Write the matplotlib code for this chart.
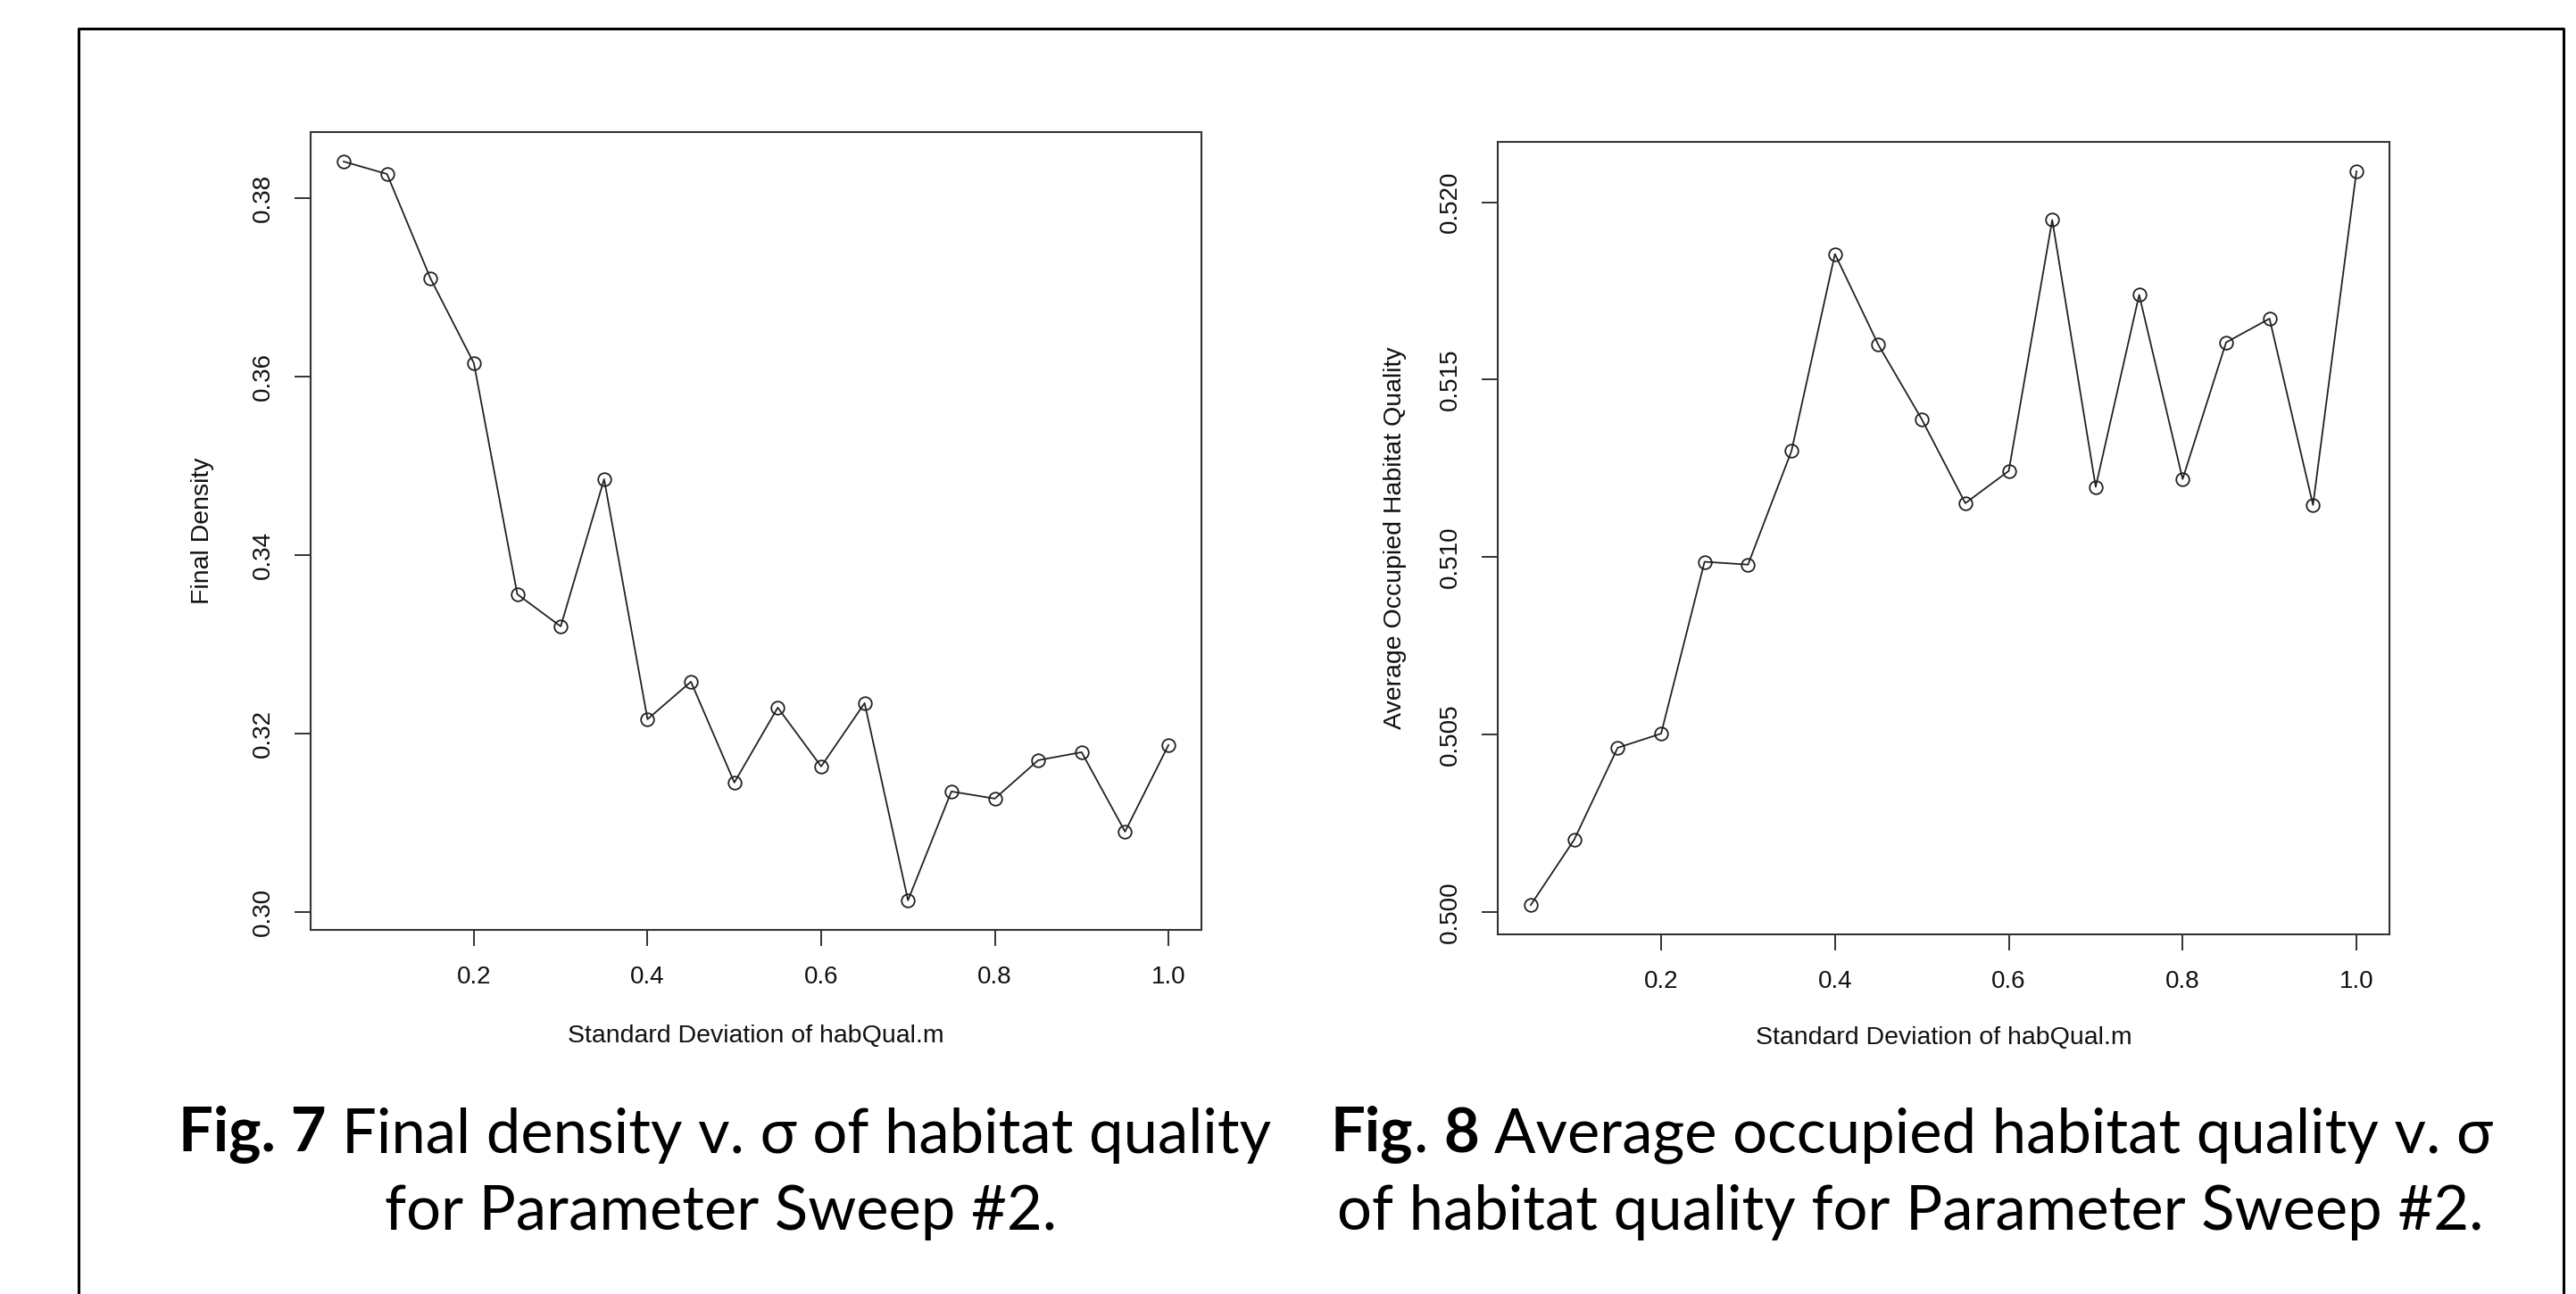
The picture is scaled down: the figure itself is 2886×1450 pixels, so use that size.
import matplotlib.pyplot as plt
from matplotlib.lines import Line2D

# Parameter sweep #2 values
sd = [0.05, 0.10, 0.15, 0.20, 0.25, 0.30, 0.35, 0.40, 0.45, 0.50,
      0.55, 0.60, 0.65, 0.70, 0.75, 0.80, 0.85, 0.90, 0.95, 1.00]
final_density = [0.3841, 0.3827, 0.3710, 0.3615, 0.3356, 0.3320, 0.3485, 0.3216, 0.3258, 0.3145,
                 0.3229, 0.3163, 0.3234, 0.3013, 0.3135, 0.3127, 0.3170, 0.3179, 0.3090, 0.3187]
avg_hab_quality = [0.50020, 0.50204, 0.50463, 0.50503, 0.50987, 0.50979, 0.51299, 0.51854, 0.51598, 0.51388,
                   0.51152, 0.51243, 0.51950, 0.51198, 0.51739, 0.51220, 0.51605, 0.51672, 0.51147, 0.52087]

x_ticks = [0.2, 0.4, 0.6, 0.8, 1.0]
x_labels = ['0.2', '0.4', '0.6', '0.8', '1.0']
dens_ticks = [0.30, 0.32, 0.34, 0.36, 0.38]
dens_labels = ['0.30', '0.32', '0.34', '0.36', '0.38']
qual_ticks = [0.500, 0.505, 0.510, 0.515, 0.520]
qual_labels = ['0.500', '0.505', '0.510', '0.515', '0.520']

x_title = 'Standard Deviation of habQual.m'
cap7 = [[('Fig. 7', 'bold'), ('Final density v. σ of habitat quality', 'normal')],
        [('for Parameter Sweep #2.', 'normal')]]
cap8 = [[('Fig', 'bold'), ('.', 'normal'), ('8', 'bold'), ('Average occupied habitat quality v. σ', 'normal')],
        [('of habitat quality for Parameter Sweep #2.', 'normal')]]

W, H = 2886, 1450
plt.rcParams['font.family'] = ['Liberation Sans', 'DejaVu Sans']
axis_col = '#333333'
cap_font = ['Lato', 'DejaVu Sans']
cap_size = 49.5


def r_lim(vals):
    # R pads the data range by 4% on each side
    lo, hi = min(vals), max(vals)
    pad = 0.04 * (hi - lo)
    return lo - pad, hi + pad


def r_plot(ax, y, yticks, ylabels, ylab, ylab_x, xlab_y):
    ax.plot(sd, y, color='#222222', lw=1.3, marker='o', ms=10.5,
            mfc='none', mec='#222222', mew=1.3)
    ax.set_xlim(r_lim(sd))
    ax.set_ylim(r_lim(y))
    ax.set_xticks(x_ticks)
    ax.set_xticklabels(x_labels)
    ax.set_yticks(yticks)
    ax.set_yticklabels(ylabels, rotation=90, va='center')
    ax.tick_params(direction='out', length=13, width=1.4, pad=16,
                   labelsize=20, color=axis_col, labelcolor='#111111')
    for sp in ax.spines.values():
        sp.set_color(axis_col)
        sp.set_linewidth(1.5)
    ax.set_ylabel(ylab, fontsize=20.5, color='#111111')
    ax.set_xlabel(x_title, fontsize=20.5, color='#111111', va='top')
    ax.yaxis.set_label_coords(ylab_x, 0.5)
    ax.xaxis.set_label_coords(0.5, xlab_y)


def caption(fig, cx, y, parts):
    # lay out mixed bold / regular pieces on one centred line
    r = fig.canvas.get_renderer()
    probe1 = fig.text(0, 0, 'xx', fontsize=cap_size, family=cap_font)
    probe2 = fig.text(0, 0, 'x x', fontsize=cap_size, family=cap_font)
    gap = probe2.get_window_extent(r).width - probe1.get_window_extent(r).width
    probe1.remove()
    probe2.remove()
    texts = []
    for s, w in parts:
        texts.append(fig.text(0, y, s, fontsize=cap_size, fontweight=w,
                              family=cap_font, ha='left', va='center'))
    widths = [t.get_window_extent(r).width for t in texts]
    # no space before a lone period
    gaps = [0 if parts[i + 1][0] == '.' else gap for i in range(len(parts) - 1)]
    total = sum(widths) + sum(gaps)
    x = cx * W - total / 2
    for i, t in enumerate(texts):
        t.set_x(x / W)
        x += widths[i] + (gaps[i] if i < len(gaps) else 0)


fig = plt.figure(figsize=(W / 100, H / 100), dpi=100)

ax1 = fig.add_axes([0.1206, 0.2814, 0.3458, 0.6166])
r_plot(ax1, final_density, dens_ticks, dens_labels, 'Final Density', -0.108, -0.119)

ax2 = fig.add_axes([0.5814, 0.2779, 0.3462, 0.6124])
r_plot(ax2, avg_hab_quality, qual_ticks, qual_labels, 'Average Occupied Habitat Quality', -0.102, -0.116)

# page frame around both figures (bottom edge runs off the crop)
fx = [88 / W, 88 / W, 2872 / W, 2872 / W]
fy = [-0.02, 1 - 32 / H, 1 - 32 / H, -0.02]
fig.add_artist(Line2D(fx, fy, transform=fig.transFigure, color='black', lw=2.2))

caption(fig, 812 / W, 1 - 1272 / H, cap7[0])
caption(fig, 808 / W, 1 - 1358 / H, cap7[1])
caption(fig, 2142 / W, 1 - 1272 / H, cap8[0])
caption(fig, 2140 / W, 1 - 1358 / H, cap8[1])

fig.savefig('out.png', dpi=100, facecolor='white')
